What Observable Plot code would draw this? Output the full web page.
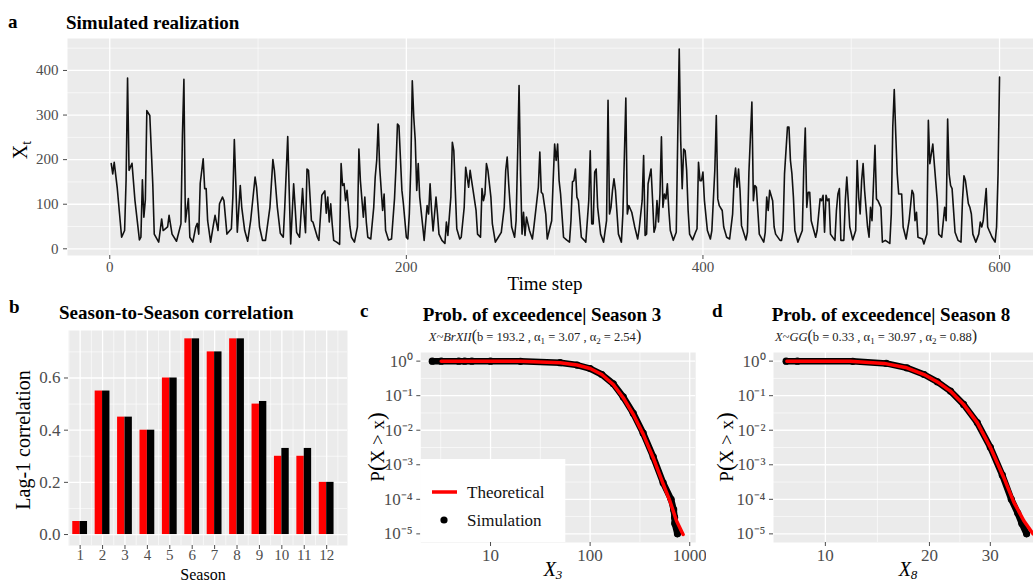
<!DOCTYPE html>
<html><head><meta charset="utf-8">
<script src="https://cdn.jsdelivr.net/npm/d3@7"></script>
<script src="https://cdn.jsdelivr.net/npm/@observablehq/plot@0.6"></script>
<style>
body{margin:0;background:#fff;}
#fig{position:relative;width:1033px;height:583px;overflow:hidden;background:#fff;font-family:"Liberation Serif",serif;}
</style></head><body><div id="fig"></div>
<script>
// ---------- Panel a: simulated realization ----------
const tsStep = [1,2,3,5,8,10,11,12,13,15,17,20,21,22,23,24,25,27,29,30,33,35,36,39,40,42,45,48,49,50,51,53,54,56,58,59,60,61,63,64,65,66,68,70,71,73,74,76,77,79,82,83,84,85,86,88,89,91,93,95,98,99,101,103,105,108,110,111,113,115,117,118,120,121,122,124,125,126,128,130,131,132,133,134,136,137,140,141,143,145,146,147,148,149,150,151,153,155,156,157,158,159,160,162,163,165,167,168,169,171,172,173,174,176,178,179,180,181,182,184,185,186,188,190,192,193,194,195,197,198,200,201,202,203,204,205,206,207,208,209,211,212,214,215,216,217,218,220,221,222,224,226,227,228,230,231,232,233,234,236,237,239,240,241,242,243,244,245,247,248,250,251,252,253,254,255,257,258,260,262,264,266,267,268,269,271,273,274,275,276,277,278,279,280,281,283,285,286,288,289,290,291,292,294,295,297,298,299,300,301,302,303,304,306,308,310,311,312,313,314,315,316,318,320,321,323,324,325,326,327,328,329,331,333,335,336,337,338,339,340,341,343,345,346,347,348,349,350,352,354,356,357,359,360,361,362,363,365,366,367,368,369,370,371,372,373,374,375,376,377,378,380,382,383,384,385,386,387,388,389,390,391,393,395,396,397,398,399,400,401,403,405,406,408,409,410,411,413,414,416,418,420,421,422,423,424,425,426,429,430,431,433,434,435,436,437,438,441,442,443,444,445,447,448,449,452,453,454,455,457,458,459,460,461,462,464,467,468,469,470,471,472,473,476,477,479,480,481,482,483,484,485,486,489,490,491,492,493,495,496,497,498,499,501,503,504,505,506,507,508,509,511,512,513,514,515,516,517,518,520,521,523,526,527,528,529,530,531,532,534,535,537,539,541,542,543,544,545,548,549,551,552,553,554,555,556,558,559,561,563,564,565,566,567,568,570,572,574,575,576,577,579,580,581,582,584,586,587,588,589,591,592,593,595,597,598,599,600];
const tsValue = [191,168,194,138,26,41,153,383,176,192,108,20,26,155,71,110,310,299,146,33,15,67,41,49,75,33,17,56,254,380,60,113,26,15,49,57,33,147,202,135,135,63,15,56,75,41,101,116,108,33,45,116,245,146,37,142,93,41,17,63,161,138,49,19,19,93,200,176,93,35,26,93,252,131,11,146,93,37,26,135,78,36,179,176,63,60,26,19,120,130,80,116,60,101,55,19,15,10,191,142,146,108,131,49,26,15,49,224,153,71,116,60,26,22,93,161,198,280,183,86,123,41,20,22,112,183,280,276,131,101,26,22,78,183,377,295,243,131,191,116,52,19,97,78,146,86,40,116,78,33,19,12,60,30,116,239,220,131,45,22,26,93,183,161,138,176,153,131,86,33,26,135,108,123,191,176,116,56,15,26,37,93,176,206,146,49,26,63,206,366,168,33,82,30,71,41,22,49,108,138,217,127,123,78,22,50,63,153,235,198,235,153,123,26,20,15,63,150,153,179,116,108,26,19,15,108,220,56,56,172,179,93,33,15,63,333,78,93,131,157,131,33,15,78,206,338,78,97,82,49,22,45,108,209,30,33,146,179,112,37,49,108,60,123,251,93,123,112,146,86,41,19,37,251,448,243,135,224,220,176,86,33,20,37,45,194,153,153,172,108,41,22,41,176,299,112,97,86,49,26,22,78,153,181,138,179,131,52,20,37,172,329,108,142,138,86,33,15,37,116,86,131,108,49,33,19,19,41,168,273,273,198,168,116,41,15,41,183,271,93,127,127,63,26,41,112,108,120,37,120,108,112,33,19,86,123,135,19,19,108,161,108,49,20,41,198,116,78,153,191,131,49,26,93,63,146,232,112,108,93,15,19,12,78,273,357,258,168,123,123,49,22,63,131,123,63,82,26,22,11,33,288,191,213,235,191,108,33,26,93,63,291,168,142,135,37,19,15,108,164,153,101,93,78,33,15,33,60,49,63,135,49,41,26,15,49,168,385];
const aTicksX = [0, 200, 400, 600];
const aMinorX = [100, 300, 500];
const aTicksY = [0, 100, 200, 300, 400];
const aMinorY = [50, 150, 250, 350, 450];

// ---------- Panel b: season-to-season correlation ----------
const seasons   = [1,2,3,4,5,6,7,8,9,10,11,12];
const corrTheo  = [0.05,0.55,0.45,0.40,0.60,0.75,0.70,0.75,0.50,0.30,0.30,0.20];
const corrSim   = [0.05,0.55,0.45,0.40,0.60,0.75,0.70,0.75,0.51,0.33,0.33,0.20];
const bTicksY = [0, 0.2, 0.4, 0.6];
const bMinorY = [0.1, 0.3, 0.5, 0.7];
const bMinorX = [0.5,1.5,2.5,3.5,4.5,5.5,6.5,7.5,8.5,9.5,10.5,11.5,12.5];

// ---------- Panel c: exceedance, season 3 ----------
const cTheoX = [3.2,10,20,50,74,100,131,171,215,271,341,430,541,631,736,858];
const cTheoP = [1,0.999,0.99,0.9,0.77,0.61,0.41,0.21,0.0875,0.029,0.0077,0.0016,0.00028,0.000091,0.000024,0.0000096];
const cSimX = [2.6,3.2,4.8,5.5,6.5,10,20,50,74,100,131,171,215,271,341,430,541,650,690,705,708,753];
const cSimP = [1,1,1,1,1,1,0.99,0.9,0.77,0.61,0.41,0.22,0.092,0.031,0.0082,0.0017,0.0003,0.0001,0.00005,0.00003,0.00002,0.00001];
const cParams = ["193.2","3.07","2.54"];
const cTicksX = [10, 100, 1000];
const cMinorX = [Math.sqrt(10), Math.sqrt(1000), Math.sqrt(100000)];

// ---------- Panel d: exceedance, season 8 ----------
const dTheoX = [7.74,11.8,14.8,17.2,19.3,21.1,23.0,25.1,27.5,30.0,32.8,35.1,37.5,39.9];
const dTheoP = [1,0.99,0.86,0.64,0.41,0.25,0.136,0.056,0.0166,0.0032,0.00043,0.000082,0.000024,0.00001];
const dSimX = [7.7,8.3,12,15,17.2,19.3,21.1,23,25.1,27.5,30,32.5,34.5,36,37,38.2];
const dSimP = [1,1,0.99,0.86,0.64,0.41,0.25,0.136,0.056,0.0166,0.0032,0.0005,0.0001,0.00004,0.00002,0.00001];
const dParams = ["0.33","30.97","0.88"];
const dTicksX = [10, 20, 30];
const dMinorX = [Math.sqrt(200), Math.sqrt(600)];

const pTicks = [1, 0.1, 0.01, 0.001, 0.0001, 0.00001];
const pMinor = [-0.5,-1.5,-2.5,-3.5,-4.5].map(e => 10 ** e);

// ---------- helpers ----------
const FONT = '"Liberation Serif", serif';
const GREY = "#EBEBEB";
const TICKCOL = "#4D4D4D";
const fig = document.getElementById("fig");
function place(el, left, top) {
  el.style.position = "absolute"; el.style.left = left + "px"; el.style.top = top + "px";
  fig.appendChild(el);
}
const SUP = {"-":"\u207B","0":"\u2070","1":"\u00B9","2":"\u00B2","3":"\u00B3","4":"\u2074","5":"\u2075"};
const pow10 = d => "10" + String(Math.round(Math.log10(d))).split("").map(c => SUP[c]).join("");
const grid = (fn, vals, w) => fn(vals, {stroke: "white", strokeOpacity: 1, strokeWidth: w});

// ---------- Panel a ----------
const dataA = tsStep.map((t, i) => ({t, v: tsValue[i]}));
const plotA = Plot.plot({
  width: 1033, height: 300, marginLeft: 67, marginRight: 0, marginTop: 38, marginBottom: 45,
  style: {fontFamily: FONT, fontSize: "15px", background: "transparent", color: TICKCOL},
  x: {domain: [-28.5, 622.9]},
  y: {domain: [-15, 471.7]},
  marks: [
    Plot.frame({fill: GREY, stroke: "none"}),
    grid(Plot.gridY, aMinorY, 0.6), grid(Plot.gridX, aMinorX, 0.6),
    grid(Plot.gridY, aTicksY, 1.3), grid(Plot.gridX, aTicksX, 1.3),
    Plot.line(dataA, {x: "t", y: "v", stroke: "#111", strokeWidth: 1.6}),
    Plot.axisY(aTicksY, {tickSize: 4, tickPadding: 5, label: null, fontSize: 15}),
    Plot.axisX(aTicksX, {tickSize: 4, tickPadding: 2, label: null, fontSize: 15})
  ]
});
place(plotA, 0, 0);

// ---------- Panel b ----------
const theoB = seasons.map((s, i) => ({s, r: corrTheo[i]}));
const simB = seasons.map((s, i) => ({s, r: corrSim[i]}));
const plotB = Plot.plot({
  width: 360, height: 283, marginLeft: 68, marginRight: 13, marginTop: 30, marginBottom: 38,
  style: {fontFamily: FONT, fontSize: "15px", background: "transparent", color: TICKCOL},
  x: {domain: [0.48, 12.93]},
  y: {domain: [-0.042, 0.782]},
  marks: [
    Plot.frame({fill: GREY, stroke: "none"}),
    grid(Plot.gridY, bMinorY, 0.6), grid(Plot.gridX, bMinorX, 0.6),
    grid(Plot.gridY, bTicksY, 1.3), grid(Plot.gridX, seasons, 1.3),
    Plot.rectY(theoB, {x1: d => d.s - 0.33, x2: d => d.s, y1: 0, y2: "r", fill: "#FF0000"}),
    Plot.rectY(simB, {x1: d => d.s, x2: d => d.s + 0.33, y1: 0, y2: "r", fill: "#000"}),
    Plot.axisY(bTicksY, {tickSize: 4, tickPadding: 4, label: null, fontSize: 17, tickFormat: d3.format(".1f")}),
    Plot.axisX(seasons, {tickSize: 4, tickPadding: 0, label: null, fontSize: 15, tickFormat: d => String(d)})
  ]
});
place(plotB, 0, 300);

// ---------- Panels c & d ----------
function exceedPlot(opts) {
  const theo = opts.tx.map((x, i) => ({x, p: opts.tp[i]}));
  const sim = opts.sx.map((x, i) => ({x, p: opts.sp[i]}));
  return Plot.plot({
    width: opts.width, height: 283, marginLeft: opts.ml, marginRight: opts.mr, marginTop: 52, marginBottom: 41,
    style: {fontFamily: FONT, fontSize: "17px", background: "transparent", color: TICKCOL},
    x: {type: "log", domain: opts.xdom},
    y: {type: "log", domain: [10 ** -5.25, 10 ** 0.25]},
    marks: [
      Plot.frame({fill: GREY, stroke: "none"}),
      grid(Plot.gridY, pMinor, 0.6), grid(Plot.gridX, opts.minor, 0.6),
      grid(Plot.gridY, pTicks, 1.3), grid(Plot.gridX, opts.ticks, 1.3),
      Plot.line(sim, {x: "x", y: "p", stroke: "#000", strokeWidth: 6.5, strokeLinecap: "round", clip: true}),
      Plot.dot(sim, {x: "x", y: "p", r: 3.6, fill: "#000", clip: true}),
      Plot.line(theo, {x: "x", y: "p", stroke: "#FF0000", strokeWidth: 3.5, clip: true}),
      Plot.axisY(pTicks, {tickSize: 4, tickPadding: 4, label: null, fontSize: 17, tickFormat: pow10}),
      Plot.axisX(opts.ticks, {tickSize: 4, tickPadding: 2, label: null, fontSize: 17, tickFormat: d => String(d)})
    ]
  });
}
const plotC = exceedPlot({width: 346, ml: 60.3, mr: 10.8, xdom: [10 ** 0.3, 10 ** 3.06],
  ticks: cTicksX, minor: cMinorX, tx: cTheoX, tp: cTheoP, sx: cSimX, sp: cSimP});
plotC.style.overflow = "hidden";
place(plotC, 360, 300);
const plotD = exceedPlot({width: 327, ml: 67, mr: 0, xdom: [10 ** 0.85, 10 ** 1.602],
  ticks: dTicksX, minor: dMinorX, tx: dTheoX, tp: dTheoP, sx: dSimX, sp: dSimP});
place(plotD, 706, 300);

// ---------- text overlay ----------
const ov = d3.create("svg").attr("width", 1033).attr("height", 583)
  .style("position", "absolute").style("left", "0px").style("top", "0px")
  .style("font-family", FONT).style("pointer-events", "none");
function txt(x, y, s, o = {}) {
  const t = ov.append("text").attr("x", x).attr("y", y).attr("fill", o.fill || "#000")
    .attr("font-size", o.size || 19).attr("text-anchor", o.anchor || "start");
  if (o.bold) t.attr("font-weight", "bold");
  if (o.italic) t.attr("font-style", "italic");
  if (o.rotate) t.attr("transform", `rotate(-90 ${x} ${y})`);
  t.text(s);
  return t;
}
// panel letters and titles
txt(8, 28, "a", {bold: true});
txt(66, 29, "Simulated realization", {bold: true});
txt(9, 313, "b", {bold: true});
txt(59, 319, "Season-to-Season correlation", {bold: true});
txt(360, 317, "c", {bold: true});
txt(542, 321, "Prob. of exceedence| Season 3", {bold: true, anchor: "middle"});
txt(712, 317, "d", {bold: true});
txt(891, 321, "Prob. of exceedence| Season 8", {bold: true, anchor: "middle"});

function subtitle(x, y, dist, params) {
  const t = ov.append("text").attr("x", x).attr("y", y).attr("text-anchor", "middle")
    .attr("font-size", 12.5).attr("fill", "#222");
  t.append("tspan").attr("font-style", "italic").text("X~" + dist);
  t.append("tspan").attr("font-size", 16).text("(");
  t.append("tspan").text("b = " + params[0] + " , \u03B1");
  t.append("tspan").attr("font-size", 9).attr("dy", 3).text("1");
  t.append("tspan").attr("dy", -3).text(" = " + params[1] + " , \u03B1");
  t.append("tspan").attr("font-size", 9).attr("dy", 3).text("2");
  t.append("tspan").attr("dy", -3).text(" = " + params[2]);
  t.append("tspan").attr("font-size", 16).text(")");
}
subtitle(535, 341, "BrXII", cParams);
subtitle(876, 341, "GG", dParams);

// axis titles
const yA = txt(27, 150, "X", {size: 20, anchor: "middle", rotate: true});
yA.append("tspan").attr("font-size", 14).attr("dy", 4).text("t");
txt(545, 290, "Time step", {size: 19, anchor: "middle"});
txt(30, 440, "Lag-1 correlation", {size: 20, anchor: "middle", rotate: true});
txt(203, 579.5, "Season", {size: 16, anchor: "middle"});
function pTitle(x) {
  const t = txt(x, 447, "P", {size: 19, anchor: "middle", rotate: true});
  t.append("tspan").attr("font-size", 23).text("(");
  t.append("tspan").text("X > x");
  t.append("tspan").attr("font-size", 23).text(")");
}
pTitle(384); pTitle(733);
function xSub(x, sub) {
  const t = txt(x, 576, "X", {size: 20, anchor: "middle", italic: true});
  t.append("tspan").attr("font-size", 13).attr("dy", 3).text(sub);
}
xSub(553, "3"); xSub(908, "8");

// legend (panel c)
ov.append("rect").attr("x", 420.3).attr("y", 459).attr("width", 145).attr("height", 83).attr("fill", "#fff");
ov.append("line").attr("x1", 432).attr("x2", 457).attr("y1", 492).attr("y2", 492).attr("stroke", "#FF0000").attr("stroke-width", 3.5);
ov.append("circle").attr("cx", 444).attr("cy", 520).attr("r", 3.6).attr("fill", "#000");
txt(467, 498, "Theoretical", {size: 17, fill: "#111"});
txt(467, 526, "Simulation", {size: 17, fill: "#111"});

fig.appendChild(ov.node());
</script></body></html>
